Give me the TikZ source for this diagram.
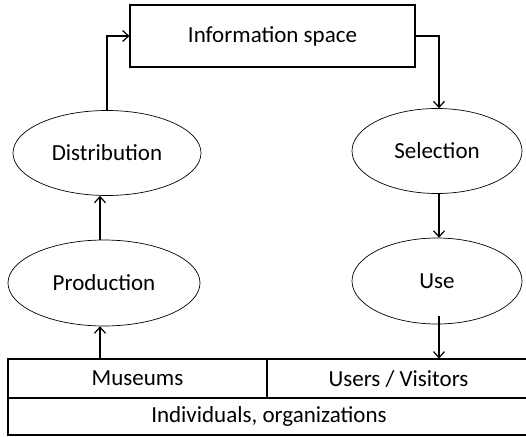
\documentclass[tikz,border=0pt]{standalone}
\usepackage{fontspec}
\setmainfont{Carlito}
\usepackage{tikz}
\usetikzlibrary{shapes.geometric}
\usetikzlibrary{arrows.meta}

\tikzset{
	stage/.style={ellipse,draw,line width=.7pt,minimum width=170pt,minimum height=85pt},
	cell/.style={rectangle,draw,line width=1.1pt,inner sep=0pt},
	flow/.style={line width=1.2pt,-{Straight Barb[length=6pt,width=11pt]}}
}

\begin{document}
\begin{tikzpicture}[x=1pt,y=-1pt,font=\fontsize{23}{27}\selectfont]
				\useasboundingbox (0,0) rectangle (526,436);
				\node[cell,minimum width=285pt,minimum height=62pt] (info) at (272.5,36) {Information space};
				\node[stage,minimum width=188pt] (dist) at (107,153) {Distribution};
				\node[stage,minimum width=192pt,minimum height=86pt] (prod) at (104,283) {Production};
				\node[stage] (sel) at (437,151) {Selection};
				\node[stage,minimum height=86pt] (use) at (437,281) {Use};
				% bottom table, running off the right edge
				\node[cell,minimum width=259pt,minimum height=39pt] (museums) at (137.5,378.5) {Museums};
				\node[cell,minimum width=263pt,minimum height=39pt] (visitors) at (398.5,378.5) {Users / Visitors};
				\node[cell,minimum width=522pt,minimum height=37pt] (people) at (269,416.5) {Individuals, organizations};
				\coordinate (pcol) at (100,0);
				\coordinate (ucol) at (439,0);
				\draw[flow] (pcol |- museums.north) -- (pcol |- prod.south);
				\draw[flow] (pcol |- prod.north) -- (pcol |- dist.south);
				\draw[flow] (dist.north) |- (info.west);
				\draw[flow] (info.east) -| (ucol |- sel.north);
				\draw[flow] (ucol |- sel.south) -- (ucol |- use.north);
				\draw[flow] ([yshift=8pt]ucol |- use.south) -- (ucol |- visitors.north);
			\end{tikzpicture}
\end{document}
